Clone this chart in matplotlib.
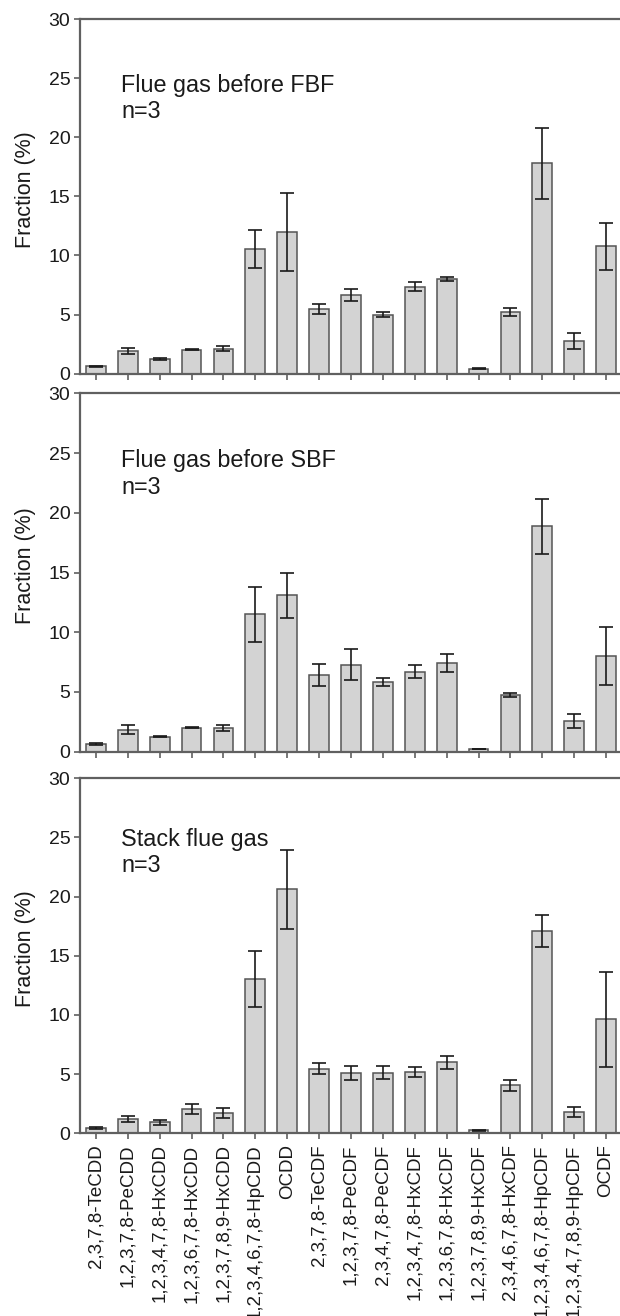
import matplotlib
matplotlib.use("Agg")
import matplotlib.pyplot as plt
import numpy as np

plt.rcParams['font.family'] = ['Liberation Sans', 'DejaVu Sans']

congeners = ["2,3,7,8-TeCDD", "1,2,3,7,8-PeCDD", "1,2,3,4,7,8-HxCDD",
             "1,2,3,6,7,8-HxCDD", "1,2,3,7,8,9-HxCDD", "1,2,3,4,6,7,8-HpCDD",
             "OCDD", "2,3,7,8-TeCDF", "1,2,3,7,8-PeCDF", "2,3,4,7,8-PeCDF",
             "1,2,3,4,7,8-HxCDF", "1,2,3,6,7,8-HxCDF", "1,2,3,7,8,9-HxCDF",
             "2,3,4,6,7,8-HxCDF", "1,2,3,4,6,7,8-HpCDF", "1,2,3,4,7,8,9-HpCDF",
             "OCDF"]

# Flue gas before FBF
fbf_mean = [0.62, 1.92, 1.24, 2.03, 2.12, 10.56, 11.98, 5.48, 6.67, 5.0,
            7.37, 7.99, 0.42, 5.2, 17.8, 2.8, 10.76]
fbf_err = [0.05, 0.28, 0.05, 0.05, 0.22, 1.6, 3.3, 0.44, 0.52, 0.24,
           0.37, 0.17, 0.04, 0.35, 3.0, 0.68, 2.0]

# Flue gas before SBF
sbf_mean = [0.64, 1.85, 1.26, 2.02, 1.96, 11.49, 13.09, 6.45, 7.29, 5.83,
            6.7, 7.4, 0.22, 4.71, 18.87, 2.55, 8.02]
sbf_err = [0.05, 0.38, 0.06, 0.04, 0.24, 2.27, 1.87, 0.92, 1.29, 0.31,
           0.56, 0.74, 0.03, 0.17, 2.3, 0.57, 2.45]

# Stack flue gas
stack_mean = [0.42, 1.2, 0.93, 2.04, 1.71, 13.05, 20.61, 5.46, 5.1, 5.13,
              5.22, 6.0, 0.24, 4.05, 17.1, 1.8, 9.63]
stack_err = [0.08, 0.27, 0.22, 0.44, 0.39, 2.37, 3.33, 0.44, 0.6, 0.54,
             0.42, 0.53, 0.05, 0.45, 1.32, 0.45, 4.0]

titles = ["Flue gas before FBF", "Flue gas before SBF", "Stack flue gas"]
means = [fbf_mean, sbf_mean, stack_mean]
errs = [fbf_err, sbf_err, stack_err]

fig = plt.figure(figsize=(6.2, 13.16), dpi=100)
W, H = 620, 1316
# axes boxes in pixels: (top, bottom)
boxes = [(19, 373.7), (393.3, 751.7), (778.3, 1133.3)]
text_y = [(23.8, 21.6), (23.85, 21.6), (24.3, 22.1)]

spine_col = "#606060"
x = np.arange(len(congeners))

for i in range(3):
    top, bot = boxes[i]
    ax = fig.add_axes([80 / W, 1 - bot / H, 542 / W, (bot - top) / H])
    ax.bar(x, means[i], width=0.62, color="#d3d3d3", edgecolor="#555555",
           linewidth=1.1, zorder=2)
    ax.errorbar(x, means[i], yerr=errs[i], fmt="none", ecolor="#1a1a1a",
                elinewidth=1.2, capsize=5, capthick=1.2, zorder=3)
    ax.set_xlim(-0.5, 16.5)
    ax.set_ylim(0, 30)
    ax.set_yticks([0, 5, 10, 15, 20, 25, 30])
    ax.set_xticks(x)
    ax.spines['right'].set_visible(False)
    for s in ['left', 'top', 'bottom']:
        ax.spines[s].set_color(spine_col)
        ax.spines[s].set_linewidth(1.6)
    ax.tick_params(axis='both', direction='out', length=4, width=1.2,
                   color=spine_col, labelsize=14, labelcolor="#1a1a1a")
    ax.tick_params(axis='y', pad=3)
    if i < 2:
        ax.set_xticklabels([])
    else:
        ax.set_xticklabels(congeners, rotation=90, fontsize=13.5, color="#1a1a1a")
        ax.tick_params(axis='x', pad=4)
    ax.set_ylabel("Fraction (%)", fontsize=15.5, color="#1a1a1a", va='center')
    ax.yaxis.set_label_coords(-0.1, 0.52)
    ax.text(0.076, text_y[i][0], titles[i], transform=ax.get_yaxis_transform(),
            fontsize=16.8, va='baseline', ha='left', color="#1a1a1a")
    ax.text(0.076, text_y[i][1], "n=3", transform=ax.get_yaxis_transform(),
            fontsize=16.8, va='baseline', ha='left', color="#1a1a1a")

fig.savefig("out.png", dpi=100)
